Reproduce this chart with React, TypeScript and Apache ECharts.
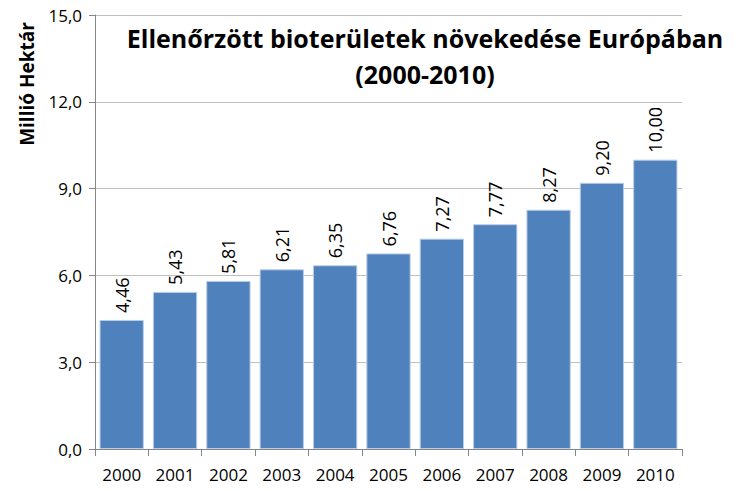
import React, { useEffect, useRef } from "react";
import * as echarts from "echarts";

const years = ["2000", "2001", "2002", "2003", "2004", "2005", "2006", "2007", "2008", "2009", "2010"];
const values = [4.46, 5.43, 5.81, 6.21, 6.35, 6.76, 7.27, 7.77, 8.27, 9.2, 10.0];
const titleLines = ["Ellenőrzött bioterületek növekedése Európában", "(2000-2010)"];
const yAxisName = "Millió Hektár";

const fmt = (v: number, d: number) => v.toFixed(d).replace(".", ",");

export default function App() {
  const ref = useRef<HTMLDivElement>(null);
  useEffect(() => {
    const chart = echarts.init(ref.current!, null, { renderer: "svg" });
    const titleStyle = { fontFamily: "Open Sans", fontWeight: "bold", fontSize: 25, color: "#000", lineHeight: 34 };
    chart.setOption({
      animation: false,
      textStyle: { fontFamily: "Open Sans" },
      title: [
        { text: titleLines[0], left: 425, top: 21, textAlign: "center", padding: 0, textStyle: titleStyle },
        { text: titleLines[1], left: 425, top: 57, textAlign: "center", padding: 0, textStyle: titleStyle },
      ],
      graphic: [
        {
          type: "text",
          x: 27,
          y: 84,
          rotation: Math.PI / 2,
          style: {
            text: yAxisName,
            fontFamily: "Open Sans",
            fontWeight: "bold",
            fontSize: 19,
            fill: "#000",
            align: "center",
            verticalAlign: "middle",
          },
        },
      ],
      grid: { left: 95, right: 73, top: 15, bottom: 42, containLabel: false },
      xAxis: {
        type: "category",
        data: years,
        axisLine: { lineStyle: { color: "#868686" } },
        axisTick: { show: true, alignWithLabel: false, length: 7, lineStyle: { color: "#868686" } },
        axisLabel: { color: "#000", fontSize: 17, margin: 17, fontFamily: "Open Sans" },
      },
      yAxis: {
        type: "value",
        min: 0,
        max: 15,
        interval: 3,
        axisLine: { show: true, lineStyle: { color: "#868686" } },
        axisTick: { show: true, length: 6, lineStyle: { color: "#868686" } },
        splitLine: { lineStyle: { color: "#bfbfbf" } },
        axisLabel: { color: "#000", fontSize: 17, margin: 13, formatter: (v: number) => fmt(v, 1) },
      },
      series: [
        {
          type: "bar",
          data: values,
          barCategoryGap: "17%",
          itemStyle: { color: "#4F81BD", borderColor: "#b9cde5", borderWidth: 1 },
          label: {
            show: true,
            position: "top",
            rotate: 90,
            align: "left",
            verticalAlign: "middle",
            distance: 7,
            fontSize: 18,
            color: "#000",
            fontFamily: "Open Sans",
            formatter: (p: any) => fmt(p.value, 2),
          },
        },
      ],
    });
    return () => chart.dispose();
  }, []);
  return <div ref={ref} style={{ width: 755, height: 491, position: "absolute", left: 0, top: 0 }} />;
}
